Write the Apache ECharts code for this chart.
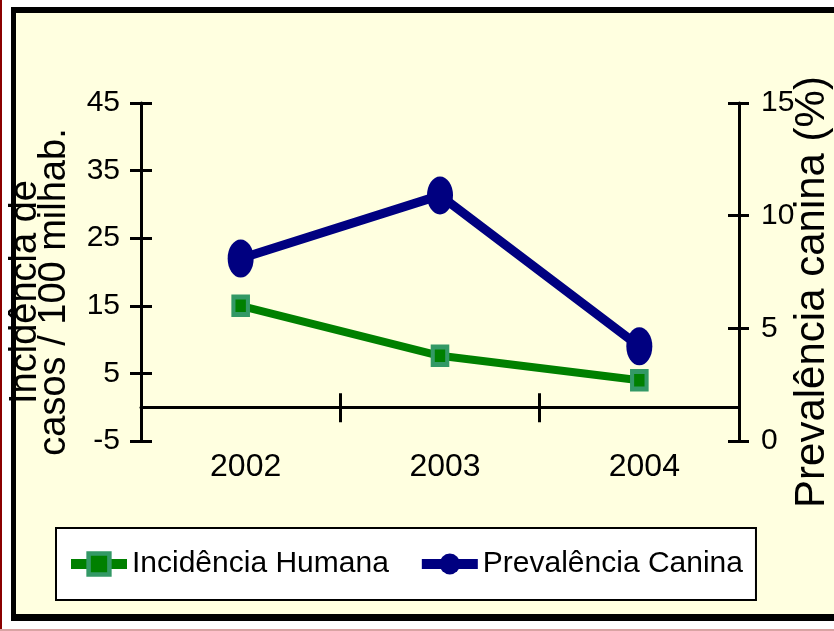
<!DOCTYPE html>
<html>
<head>
<meta charset="utf-8">
<script src="https://cdn.jsdelivr.net/npm/echarts@6/dist/echarts.min.js"></script>
<style>
  html, body { margin:0; padding:0; background:#fff; overflow:hidden; }
  #wrap { position:relative; width:834px; height:631px; background:#fff; overflow:hidden; }
  #frame { position:absolute; left:11px; top:7px; width:900px; height:614px; box-sizing:border-box;
           border-top:6px solid #000; border-left:5px solid #000; border-bottom:7px solid #000; background:#FFFFE0; }
  #redline { position:absolute; left:0; top:0; width:2px; height:631px; background:#8B0000; }
  #pinkline { position:absolute; left:0; top:629px; width:834px; height:2px; background:#D9A3A3; }
  #chart { position:absolute; left:0; top:0; width:834px; height:631px; }
</style>
</head>
<body>
<div id="wrap">
  <div id="frame"></div>
  <div id="redline"></div>
  <div id="pinkline"></div>
  <div id="chart"></div>
</div>
<script>
const years = ['2002', '2003', '2004'];
const incidenciaHumana = [15.0, 7.6, 4.0];
const prevalenciaCanina = [8.1, 10.9, 4.2];
const leftMin = -5, leftMax = 45, leftStep = 10;
const rightMin = 0, rightMax = 15, rightStep = 5;
const seriesNames = ['Incidência Humana', 'Prevalência Canina'];
const leftName = 'Incidência de\ncasos / 100 milhab.';
const rightName = 'Prevalência canina (%)';

const FONT = '"Liberation Sans", Arial, sans-serif';
const axisBlack = { color: '#000', width: 3 };

const chart = echarts.init(document.getElementById('chart'), null, { renderer: 'canvas' });
chart.setOption({
  backgroundColor: 'transparent',
  animation: false,
  textStyle: { fontFamily: FONT },
  grid: { left: 141, right: 95, top: 103, bottom: 190, containLabel: false, outerBoundsMode: 'none' },
  legend: {
    left: 56, top: 528,
    orient: 'horizontal',
    backgroundColor: '#fff',
    borderColor: '#000', borderWidth: 2,
    padding: [21, 13, 21, 10],
    itemWidth: 56, itemHeight: 26, itemGap: 28,
    lineStyle: { width: 10 },
    itemStyle: { borderWidth: 'inherit' },
    textStyle: { fontSize: 30, color: '#000', fontFamily: FONT },
    data: seriesNames
  },
  xAxis: [
    {
      type: 'category', data: years, position: 'bottom', boundaryGap: true,
      axisLine: { show: true, onZero: true, onZeroAxisIndex: 0, lineStyle: axisBlack },
      axisTick: { show: true, inside: false, length: 15, interval: 0, lineStyle: axisBlack },
      axisLabel: { show: true, margin: 10, fontSize: 32, color: '#000', fontFamily: FONT, padding: [0, 0, 0, 10] },
      splitLine: { show: false }
    },
    {
      type: 'category', data: years, position: 'bottom', boundaryGap: true,
      axisLine: { show: false, onZero: true, onZeroAxisIndex: 0 },
      axisTick: { show: true, inside: true, length: 14, interval: 0, lineStyle: axisBlack },
      axisLabel: { show: false },
      splitLine: { show: false }
    }
  ],
  yAxis: [
    {
      type: 'value', position: 'left', min: leftMin, max: leftMax, interval: leftStep,
      axisLine: { show: true, onZero: false, lineStyle: axisBlack },
      axisTick: { show: true, inside: false, length: 11, lineStyle: axisBlack },
      axisLabel: { show: true, margin: 21, fontSize: 30, color: '#000', fontFamily: FONT, showMinLabel: true, showMaxLabel: true },
      splitLine: { show: false },
      name: leftName, nameLocation: 'middle', nameRotate: 90, nameGap: 72, nameMoveOverlap: false,
      nameTextStyle: { fontSize: 38, lineHeight: 29, color: '#000', fontFamily: FONT, align: 'center', padding: [0, 40, 0, 0] }
    },
    {
      type: 'value', position: 'right', min: rightMin, max: rightMax, interval: rightStep,
      axisLine: { show: true, onZero: false, lineStyle: axisBlack },
      axisTick: { show: true, inside: false, length: 10, lineStyle: axisBlack },
      axisLabel: { show: true, margin: 22, fontSize: 30, color: '#000', fontFamily: FONT, showMinLabel: true, showMaxLabel: true },
      splitLine: { show: false },
      name: rightName, nameLocation: 'middle', nameRotate: 90, nameGap: 52, nameMoveOverlap: false,
      nameTextStyle: { fontSize: 42, lineHeight: 42, color: '#000', fontFamily: FONT, align: 'center', padding: [0, 40, 0, 0] }
    },
    {
      type: 'value', position: 'left', min: leftMin, max: leftMax, interval: leftStep,
      axisLine: { show: false, onZero: false },
      axisTick: { show: true, inside: true, length: 11, lineStyle: axisBlack },
      axisLabel: { show: false }, splitLine: { show: false }
    },
    {
      type: 'value', position: 'right', min: rightMin, max: rightMax, interval: rightStep,
      axisLine: { show: false, onZero: false },
      axisTick: { show: true, inside: true, length: 11, lineStyle: axisBlack },
      axisLabel: { show: false }, splitLine: { show: false }
    }
  ],
  series: [
    {
      name: seriesNames[0], type: 'line', xAxisIndex: 0, yAxisIndex: 0,
      data: incidenciaHumana,
      symbol: 'rect', symbolSize: [14.5, 17.5],
      lineStyle: { color: '#008000', width: 8 },
      itemStyle: { color: '#008000', borderColor: '#339966', borderWidth: 4.5 },
      z: 3
    },
    {
      name: seriesNames[1], type: 'line', xAxisIndex: 0, yAxisIndex: 1,
      data: prevalenciaCanina,
      symbol: 'circle', symbolSize: [26, 38],
      lineStyle: { color: '#000080', width: 9 },
      itemStyle: { color: '#000080', borderWidth: 0 },
      z: 4
    }
  ]
});
</script>
</body>
</html>
